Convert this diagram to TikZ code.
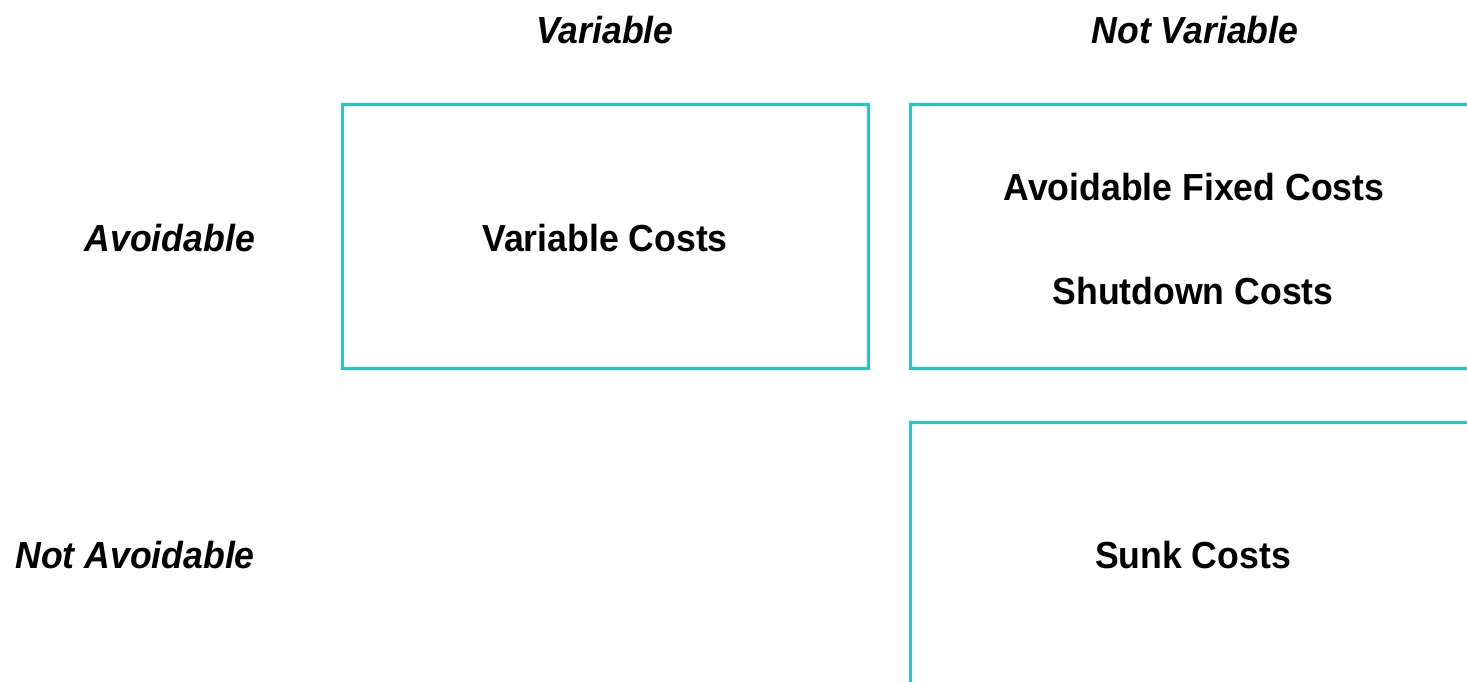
\documentclass[tikz,border=0pt]{standalone}
\usepackage{fontspec}
\setmainfont{Liberation Sans}[FakeStretch=0.945]
\usepackage{tikz}
\usetikzlibrary{positioning}
\definecolor{boxteal}{RGB}{36,198,198}
\tikzset{cell/.style={draw=boxteal, line width=3pt}}
\tikzset{txt/.style={font=\fontsize{37.7}{44}\selectfont\bfseries, inner sep=0pt}}
\tikzset{head/.style={font=\fontsize{37.7}{44}\selectfont\bfseries\itshape, inner sep=0pt}}

\begin{document}
\begin{tikzpicture}[x=1pt,y=-1pt]
\useasboundingbox (0,0) rectangle (1467,682);
\clip (0,0) rectangle (1467,682);
% column and row headings
\node[head] (var) at (605,30) {Variable};
\node[head] (notvar) at (1195,30) {Not Variable};
\node[head, anchor=east] (avoid) at (255,238) {Avoidable};
\node[head, anchor=east] (notavoid) at (255,555) {Not Avoidable};
% cells
\draw[cell] (342,105) rectangle (868,368);
\draw[cell] (910,105) rectangle (1490,368);
\draw[cell] (910,422) rectangle (1490,710);
\node[txt] (varcost) at (605,238) {Variable Costs};
\node[txt] (fixcost) at (1194,187) {Avoidable Fixed Costs};
\node[txt] (shutcost) at (1193,291) {Shutdown Costs};
\node[txt] (sunkcost) at (1193,555) {Sunk Costs};
\end{tikzpicture}
\end{document}
